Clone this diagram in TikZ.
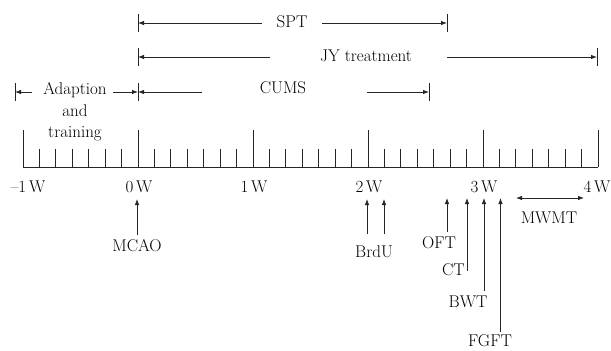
\documentclass[tikz,border=0pt]{standalone}
\usetikzlibrary{arrows.meta}
\begin{document}
\begin{tikzpicture}[x=1pt,y=-1pt,
  line/.style={draw=black!85, line width=0.8pt},
  arr/.style={line, -{Latex[length=6pt,width=4.5pt]}},
  darr/.style={line, {Latex[length=6pt,width=4.5pt]}-{Latex[length=6pt,width=4.5pt]}},
  lbl/.style={font=\fontsize{17}{20}\selectfont, inner sep=0pt, text height=11.4pt, text depth=0pt},
  bar/.style={line},
]
\useasboundingbox (0,0) rectangle (611,351);

% ---- time axis with week and day ticks ----
\coordinate (axL) at (23,167);
\coordinate (axR) at (598,167);
\draw[line] (axL) -- (axR);
\foreach \w in {0,...,5}
  \draw[line] (23+\w*115,167) -- ++(0,-37);
\foreach \d in {1,...,34}{%
  \pgfmathtruncatemacro\r{mod(\d,7)}%
  \ifnum\r>0 \draw[line] (23+\d*115/7,167) -- ++(0,-18);\fi
}

% week labels
\node[lbl] (wm1) at (28,187) {--1\,W};
\node[lbl] (w0) at (139,187) {0\,W};
\node[lbl] (w1) at (254,187) {1\,W};
\node[lbl] (w2) at (369,187) {2\,W};
\node[lbl] (w3) at (484,187) {3\,W};
\node[lbl] (w4) at (597,187) {4\,W};

% ---- SPT ----
\node[lbl] (spt) at (292,22) {SPT};
\coordinate (sptL) at (138,23);  \coordinate (sptR) at (447,23);
\coordinate (sptLs) at (262,23); \coordinate (sptRs) at (322,23);
\draw[arr] (sptLs) -- (sptL);
\draw[arr] (sptRs) -- (sptR);
\draw[bar] ([yshift=9pt]sptL) -- ([yshift=-9pt]sptL);
\draw[bar] ([yshift=9pt]sptR) -- ([yshift=-9pt]sptR);

% ---- JY treatment ----
\node[lbl] (jy) at (366,56) {JY treatment};
\coordinate (jyL) at (138,57);  \coordinate (jyR) at (597,57);
\coordinate (jyLs) at (270,57); \coordinate (jyRs) at (447,57);
\draw[arr] (jyLs) -- (jyL);
\draw[arr] (jyRs) -- (jyR);
\draw[bar] ([yshift=9pt]jyL) -- ([yshift=-9pt]jyL);
\draw[bar] ([yshift=9pt]jyR) -- ([yshift=-9pt]jyR);

% ---- CUMS ----
\node[lbl] (cums) at (283,88) {CUMS};
\coordinate (cuL) at (138,92);  \coordinate (cuR) at (429,92);
\coordinate (cuLs) at (202,92); \coordinate (cuRs) at (367,92);
\draw[arr] (cuLs) -- (cuL);
\draw[arr] (cuRs) -- (cuR);
\draw[bar] ([yshift=9pt]cuL) -- ([yshift=-9pt]cuL);
\draw[bar] ([yshift=9pt]cuR) -- ([yshift=-9pt]cuR);

% ---- Adaption and training ----
\node[font=\fontsize{17}{21.5}\selectfont, inner sep=0pt, align=center]
  (adapt) at (75,112) {Adaption\\and\\training};
\coordinate (adL) at (15,92);  \coordinate (adLs) at (32,92);
\coordinate (adRs) at (113,92);
\draw[arr] (adLs) -- (adL);
\draw[arr] (adRs) -- (cuL);
\draw[bar] ([yshift=9pt]adL) -- ([yshift=-9pt]adL);

% ---- events below the axis ----
\node[lbl] (mcao) at (137,246) {MCAO};
\coordinate (mcaoF) at (137,235); \coordinate (mcaoT) at (137,199);
\draw[arr] (mcaoF) -- (mcaoT);

\node[lbl] (brdu) at (374,252) {BrdU};
\coordinate (br1F) at (367,234); \coordinate (br1T) at (367,199);
\coordinate (br2F) at (384,234); \coordinate (br2T) at (384,199);
\draw[arr] (br1F) -- (br1T);
\draw[arr] (br2F) -- (br2T);

\node[lbl] (oft) at (439,242.5) {OFT};
\coordinate (oftF) at (447,232); \coordinate (oftT) at (447,198);
\draw[arr] (oftF) -- (oftT);

\node[lbl, anchor=east] (ct) at (465,269.5) {CT};
\coordinate (ctF) at (467,271); \coordinate (ctT) at (467,198);
\draw[arr] (ctF) -- (ctT);

\node[lbl] (bwt) at (468,302) {BWT};
\coordinate (bwtF) at (484,291); \coordinate (bwtT) at (484,198);
\draw[arr] (bwtF) -- (bwtT);

\node[lbl] (fgft) at (490,341) {FGFT};
\coordinate (fgftF) at (500.5,332); \coordinate (fgftT) at (500.5,198);
\draw[arr] (fgftF) -- (fgftT);

\node[lbl] (mwmt) at (549,217.5) {MWMT};
\coordinate (mwL) at (516,198); \coordinate (mwR) at (584,198);
\draw[darr] (mwL) -- (mwR);
\end{tikzpicture}
\end{document}
